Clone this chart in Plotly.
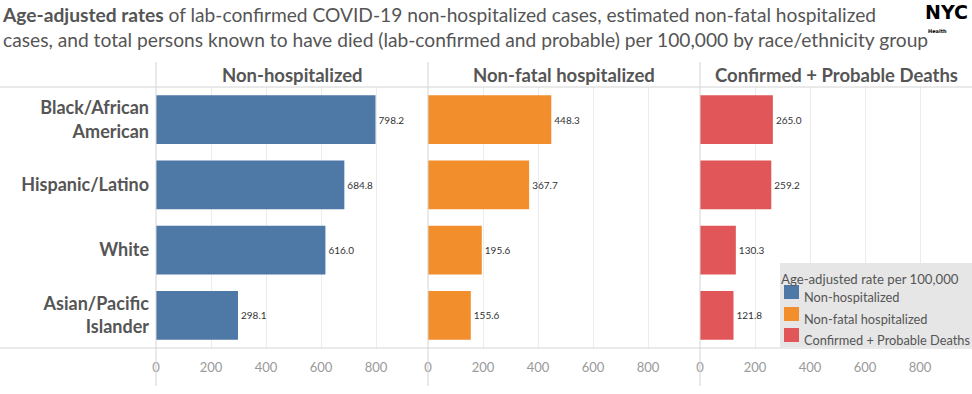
import plotly.graph_objects as go

W, H = 972, 394

groups = ["Black/African American", "Hispanic/Latino", "White", "Asian/Pacific Islander"]
group_labels = ["<b>Black/African<br>American</b>", "<b>Hispanic/Latino</b>", "<b>White</b>", "<b>Asian/Pacific<br>Islander</b>"]
non_hospitalized = [798.2, 684.8, 616.0, 298.1]
non_fatal_hospitalized = [448.3, 367.7, 195.6, 155.6]
deaths = [265.0, 259.2, 130.3, 121.8]
panel_titles = ["Non-hospitalized", "Non-fatal hospitalized", "Confirmed + Probable Deaths"]
legend_title = "Age-adjusted rate per 100,000"
tick_vals = [0, 200, 400, 600, 800]
colors = ["#4e79a7", "#f28e2b", "#e15759"]

FONT = "Lato"
TXT = "#555555"

def px(x):
    return x / W

def py(y):
    return 1 - y / H

panel_left = [156, 428, 700]
panel_w = 272
x_max = 989
plot_top, plot_bot = 87, 348

fig = go.Figure()
series = [non_hospitalized, non_fatal_hospitalized, deaths]
for i, vals in enumerate(series):
    xa = "x" if i == 0 else f"x{i+1}"
    fig.add_trace(go.Bar(
        x=vals, y=groups, orientation="h", xaxis=xa, yaxis="y",
        marker=dict(color=colors[i], line=dict(width=0)),
        name=panel_titles[i],
        texttemplate="%{x:.1f}", textposition="outside",
        textfont=dict(size=10, color="#333333", family=FONT),
        cliponaxis=False, showlegend=False,
        hovertemplate="%{y}: %{x:.1f}<extra></extra>",
    ))

layout = dict(
    width=W, height=H,
    margin=dict(l=0, r=0, t=0, b=0, autoexpand=False),
    plot_bgcolor="white", paper_bgcolor="white",
    bargap=0.25,
    font=dict(family=FONT, color=TXT),
    yaxis=dict(
        domain=[py(plot_bot), py(plot_top)],
        categoryorder="array", categoryarray=groups,
        range=[3.5, -0.5],
        tickmode="array", tickvals=groups, ticktext=group_labels,
        tickfont=dict(size=18, color=TXT, family=FONT),
        showgrid=False, zeroline=False, showline=False,
        ticks="", ticklabelstandoff=6, anchor="x",
    ),
)
for i in range(3):
    key = "xaxis" if i == 0 else f"xaxis{i+1}"
    layout[key] = dict(
        domain=[px(panel_left[i]), px(panel_left[i] + panel_w)],
        range=[0, x_max], anchor="y",
        tickmode="array", tickvals=tick_vals,
        tickfont=dict(size=13, color="#9a9a9a", family=FONT),
        showgrid=True, gridcolor="#ececec", gridwidth=1,
        zeroline=False, showline=False, ticks="",
        ticklabelstandoff=10,
    )
fig.update_layout(**layout)

shapes = []
for yv in (plot_top, plot_bot):
    shapes.append(dict(type="line", xref="paper", yref="paper",
                       x0=0, x1=1, y0=py(yv), y1=py(yv),
                       line=dict(color="#d4d4d4", width=1)))
for xl in panel_left:
    shapes.append(dict(type="line", xref="paper", yref="paper",
                       x0=px(xl), x1=px(xl), y0=py(62), y1=py(386),
                       line=dict(color="#d4d4d4", width=1)))
shapes.append(dict(type="rect", xref="paper", yref="paper",
                   x0=px(780), x1=px(975), y0=py(347), y1=py(263),
                   fillcolor="#e6e6e6", line=dict(width=0), layer="above"))
leg_y = [292, 314, 335]
for i in range(3):
    shapes.append(dict(type="rect", xref="paper", yref="paper",
                       x0=px(784), x1=px(799), y0=py(leg_y[i] + 7), y1=py(leg_y[i] - 7),
                       fillcolor=colors[i], line=dict(width=0), layer="above"))

annotations = []
annotations.append(dict(
    xref="paper", yref="paper", x=px(0), y=py(1), xanchor="left", yanchor="top",
    align="left", showarrow=False,
    text="<b>Age-adjusted rates</b> of lab-confirmed COVID-19 non-hospitalized cases, estimated non-fatal hospitalized<br>"
         "cases, and total persons known to have died (lab-confirmed and probable) per 100,000 by race/ethnicity group",
    font=dict(size=19.2, color=TXT, family=FONT),
))
annotations.append(dict(xref="paper", yref="paper", x=px(970), y=py(12), xanchor="right", yanchor="middle",
                        showarrow=False, text="<b>NYC</b>",
                        font=dict(size=19, color="#000000", family="DejaVu Sans")))
annotations.append(dict(xref="paper", yref="paper", x=px(926), y=py(31), xanchor="left", yanchor="middle",
                        showarrow=False, text="<b>Health</b>",
                        font=dict(size=5, color="#000000", family="DejaVu Sans")))
for i in range(3):
    annotations.append(dict(xref="paper", yref="paper",
                            x=px(panel_left[i] + panel_w / 2), y=py(75),
                            xanchor="center", yanchor="middle", showarrow=False,
                            text=f"<b>{panel_titles[i]}</b>",
                            font=dict(size=18.5, color=TXT, family=FONT)))
annotations.append(dict(xref="paper", yref="paper", x=px(779), y=py(279), xanchor="left", yanchor="middle",
                        showarrow=False, text=legend_title, font=dict(size=13.2, color=TXT, family=FONT)))
for i in range(3):
    annotations.append(dict(xref="paper", yref="paper", x=px(802), y=py(leg_y[i] + 5), xanchor="left",
                            yanchor="middle", showarrow=False, text=panel_titles[i],
                            font=dict(size=12.8, color=TXT, family=FONT)))

fig.update_layout(shapes=shapes, annotations=annotations)
fig.write_html("out.html", config={"displayModeBar": False},
               post_script="document.body.style.margin='0';")
